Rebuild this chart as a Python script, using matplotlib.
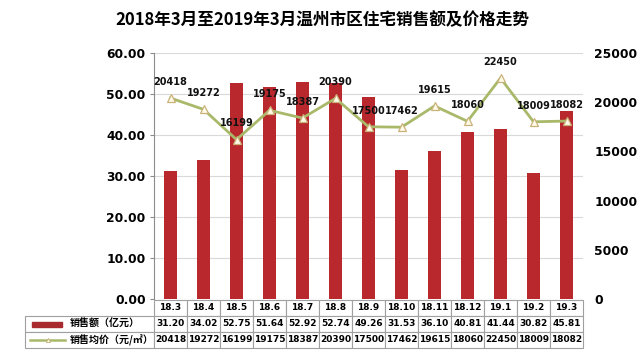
import matplotlib
matplotlib.use("Agg")
import matplotlib.pyplot as plt
from matplotlib.patches import Rectangle
from matplotlib.lines import Line2D

plt.rcParams['font.family'] = ['DejaVu Sans', 'Noto Sans CJK SC']

title = "2018年3月至2019年3月温州市区住宅销售额及价格走势"
categories = ["18.3", "18.4", "18.5", "18.6", "18.7", "18.8", "18.9",
              "18.10", "18.11", "18.12", "19.1", "19.2", "19.3"]
sales = [31.20, 34.02, 52.75, 51.64, 52.92, 52.74, 49.26,
         31.53, 36.10, 40.81, 41.44, 30.82, 45.81]
prices = [20418, 19272, 16199, 19175, 18387, 20390, 17500,
          17462, 19615, 18060, 22450, 18009, 18082]
row_labels = ["销售额（亿元）", "销售均价（元/㎡）"]
left_ticks = [0, 10, 20, 30, 40, 50, 60]
right_ticks = [0, 5000, 10000, 15000, 20000, 25000]

bar_color = '#b8282c'
line_color = '#a9b96a'
grid_color = '#d9d9d9'
border_color = '#a0a0a0'
cjk = ['Noto Sans CJK SC', 'DejaVu Sans']

fig = plt.figure(figsize=(6.4, 3.6), dpi=100)
W, H = 640, 360
ax_l, ax_r, ax_t, ax_b = 154, 583, 53, 299
ax = fig.add_axes([ax_l / W, 1 - ax_b / H, (ax_r - ax_l) / W, (ax_b - ax_t) / H])

x = list(range(len(categories)))
ax.bar(x, sales, width=0.42, color=bar_color, zorder=2)
ax.set_xlim(-0.5, len(categories) - 0.5)
ax.set_ylim(0, 60)
ax.set_yticks(left_ticks)
ax.set_yticklabels([f"{v:.2f}" for v in left_ticks], fontsize=8.8, fontweight='bold')
ax.yaxis.grid(True, color=grid_color, linewidth=0.8, zorder=0)
ax.set_axisbelow(True)
ax.set_xticks([])
for s in ['top', 'right', 'bottom']:
    ax.spines[s].set_visible(False)
ax.spines['left'].set_color('#8c8c8c')
ax.tick_params(axis='y', length=3, color='#8c8c8c', pad=3)

ax2 = ax.twinx()
ax2.plot(x, prices, color=line_color, linewidth=2, marker='^', markersize=5.5,
         markerfacecolor='#fffbe8', markeredgecolor='#c9b27a', markeredgewidth=0.9, zorder=3)
ax2.set_ylim(0, 25000)
ax2.set_yticks(right_ticks)
ax2.set_yticklabels([str(v) for v in right_ticks], fontsize=8.8, fontweight='bold')
ax2.tick_params(axis='y', length=0, pad=8)
for s in ['top', 'right', 'bottom', 'left']:
    ax2.spines[s].set_visible(False)
ax2.set_xlim(-0.5, len(categories) - 0.5)
for xi, p in zip(x, prices):
    ax2.annotate(str(p), (xi, p), xytext=(0, 8), textcoords='offset points',
                 ha='center', va='bottom', fontsize=7, fontweight='bold', color='#111111')

# table
axh = ax_b - ax_t
tbl_top, tbl_bot = 300, 348
label_w = 129 / (ax_r - ax_l)
cell_text = [[f"{v:.2f}" for v in sales], [str(v) for v in prices]]
tbl = ax.table(cellText=cell_text, rowLabels=row_labels, colLabels=categories,
               cellLoc='center', rowLoc='left',
               colWidths=[1 / len(categories)] * len(categories),
               bbox=[0, (ax_b - tbl_bot) / axh, 1, (tbl_bot - tbl_top) / axh])
tbl._autoColumns = []
tbl.auto_set_font_size(False)
for (r, c), cell in tbl.get_celld().items():
    cell.set_edgecolor(border_color)
    cell.set_linewidth(0.8)
    cell.get_text().set_fontsize(6.5)
    cell.get_text().set_fontweight('bold')
    if c == -1:
        cell.set_width(label_w)
        cell.PAD = 0.35
        cell.get_text().set_fontfamily(cjk)
        cell.get_text().set_fontsize(7.2)

# legend symbols in row label cells
def ax_x(px):
    return (px - ax_l) / (ax_r - ax_l)

def ax_y(py):
    return (ax_b - py) / axh

row2_y = ax_y(324)
row3_y = ax_y(340)
ax.add_patch(Rectangle((ax_x(32), row2_y - 2.5 / axh), ax_x(62) - ax_x(32), 5 / axh,
                       transform=ax.transAxes, color='#a82a2e', clip_on=False))
ax.add_line(Line2D([ax_x(30), ax_x(65)], [row3_y, row3_y], transform=ax.transAxes,
                   color=line_color, linewidth=1.8, clip_on=False))
ax.add_line(Line2D([ax_x(47.5)], [row3_y], transform=ax.transAxes, marker='^',
                   markersize=3, markerfacecolor='#fffbe8', markeredgecolor='#c9b27a',
                   markeredgewidth=0.6, linestyle='none', clip_on=False))

fig.text(0.503, 1 - 20 / H, title, ha='center', va='center', fontsize=12,
         fontweight='bold', family=cjk)

fig.savefig("out.png", dpi=100)
